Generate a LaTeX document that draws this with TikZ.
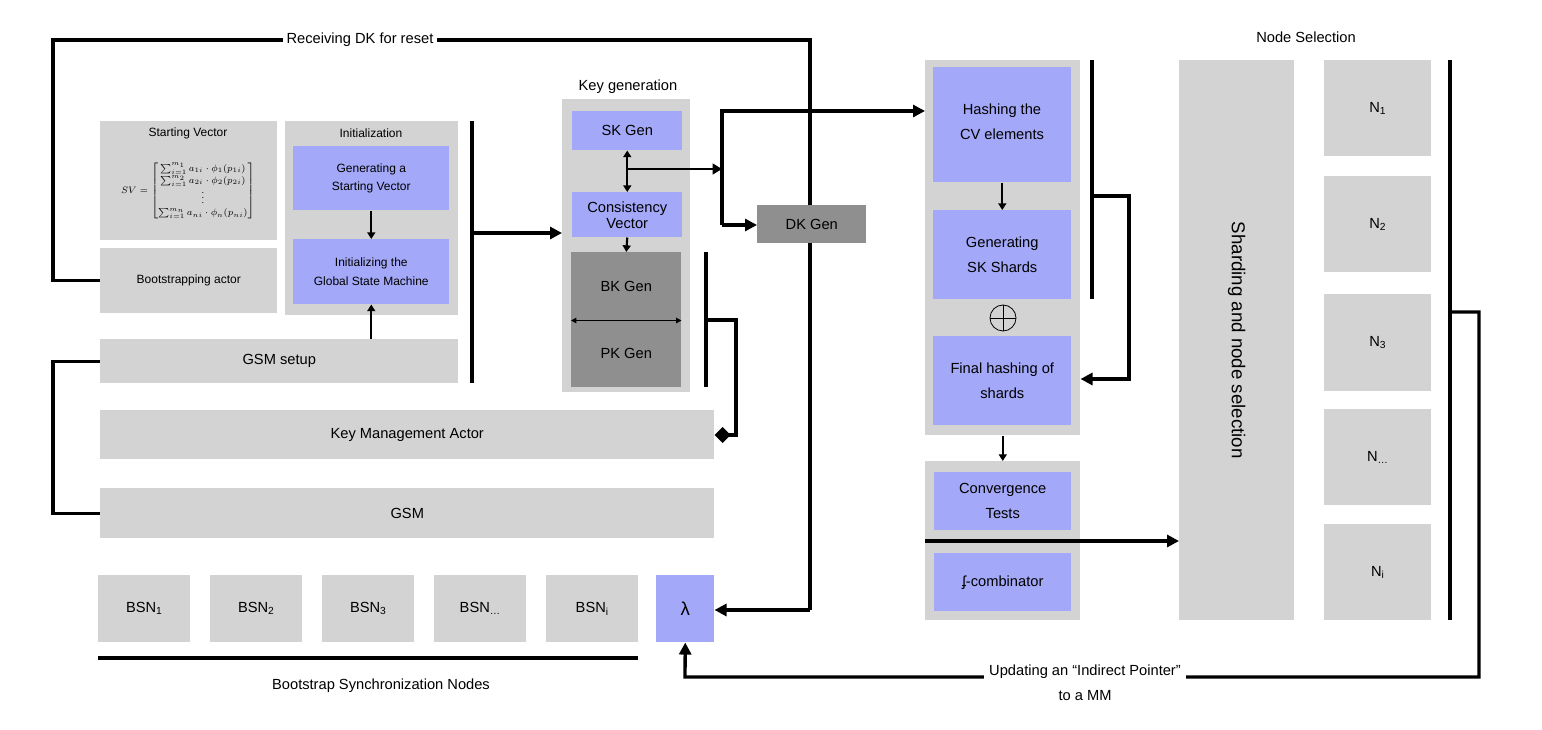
\documentclass[tikz,border=0pt]{standalone}
\usepackage{fontspec}
\usepackage{amsmath}
\setmainfont{Liberation Sans}
\usetikzlibrary{arrows.meta}
\definecolor{gr}{HTML}{D3D3D3}
\definecolor{bl}{HTML}{A3A8F8}
\definecolor{dg}{HTML}{8F8F8F}
\begin{document}
\begin{tikzpicture}[x=0.75pt,y=-0.75pt,
 box/.style={fill=gr,draw=none},
 bbox/.style={fill=bl,draw=none},
 dbox/.style={fill=dg,draw=none},
 ln/.style={line width=2.5pt,line join=miter},
 ar/.style={ln,-{Triangle[length=9pt,width=9pt]}},
 sar/.style={line width=1.6pt,-{Triangle[length=5pt,width=6pt]}},
 txt/.style={font=\fontsize{11}{14}\selectfont,align=center},
 stxt/.style={font=\fontsize{9}{14}\selectfont,align=center}]
\useasboundingbox (0,0) rectangle (1542,730);
\node[box,minimum width=177*0.75pt,minimum height=119*0.75pt,anchor=north west] (sv) at (100,121) {};
\node[stxt] at (188,133) {Starting Vector};
\node[font=\fontsize{7}{8}\selectfont] at (188,191) {$SV=\begin{bmatrix}\sum_{i=1}^{m_1}a_{1i}\cdot\phi_1(p_{1i})\\[1pt]\sum_{i=1}^{m_2}a_{2i}\cdot\phi_2(p_{2i})\\[-2pt]\vdots\\[1pt]\sum_{i=1}^{m_n}a_{ni}\cdot\phi_n(p_{ni})\end{bmatrix}$};
\node[box,minimum width=177*0.75pt,minimum height=65*0.75pt,anchor=north west] (ba) at (100,248) {};
\node[stxt] at (ba.center) {Bootstrapping actor};
\coordinate (tl2) at (53,40); \coordinate (tl3) at (810,40); \coordinate (tl4) at (810,610);
\node[box,minimum width=173*0.75pt,minimum height=194*0.75pt,anchor=north west] (ini) at (285,121) {};
\node[stxt] at (371,133) {Initialization};
\node[bbox,minimum width=156*0.75pt,minimum height=64*0.75pt,anchor=north west] (gen) at (293,146) {};
\node[stxt] at (gen.center) {Generating a\\Starting Vector};
\node[bbox,minimum width=156*0.75pt,minimum height=65*0.75pt,anchor=north west] (igsm) at (293,239) {};
\node[stxt] at (igsm.center) {Initializing the\\Global State Machine};
\node[box,minimum width=358*0.75pt,minimum height=44*0.75pt,anchor=north west] (setup) at (100,339) {};
\node[txt] at (setup.center) {GSM setup};
\node[box,minimum width=614*0.75pt,minimum height=49*0.75pt,anchor=north west] (kma) at (100,410) {};
\node[txt] at (kma.center) {Key Management Actor};
\node[box,minimum width=614*0.75pt,minimum height=50*0.75pt,anchor=north west] (gsm) at (100,488) {};
\node[txt] at (gsm.center) {GSM};
\draw[ln] (gsm.west) -- (gsm.west -| tl2) -- (setup.west -| tl2) -- (setup.west);
\foreach \x/\l [count=\i] in {98/BSN\textsubscript{1},210/BSN\textsubscript{2},322/BSN\textsubscript{3},434/BSN\textsubscript{…},546/BSN\textsubscript{i}}{
 \node[box,minimum width=92*0.75pt,minimum height=67*0.75pt,anchor=north west] (bsn\i) at (\x,575) {};
 \node[txt] at (bsn\i.center) {\l};}
\node[bbox,minimum width=58*0.75pt,minimum height=67*0.75pt,anchor=north west] (lam) at (656,575) {};
\node[font=\fontsize{14}{14}\selectfont] at (lam.center) {λ};
\coordinate (bl1) at (98,658); \coordinate (bl2) at (638,658);
\draw[ln] (bl1) -- (bl2);
\node[txt] at (381,686) {Bootstrap Synchronization Nodes};
\node[txt] at (628,87) {Key generation};
\node[box,minimum width=128*0.75pt,minimum height=293*0.75pt,anchor=north west] (kg) at (562,99) {};
\node[bbox,minimum width=110*0.75pt,minimum height=39*0.75pt,anchor=north west] (sk) at (572,111) {};
\node[txt] at (sk.center) {SK Gen};
\node[bbox,minimum width=110*0.75pt,minimum height=45*0.75pt,anchor=north west] (cv) at (572,192) {};
\node[txt,font=\fontsize{11}{12}\selectfont] at (cv.center) {Consistency\\Vector};
\node[dbox,minimum width=110*0.75pt,minimum height=68*0.75pt,anchor=north west] (bk) at (571,252) {};
\node[txt] at (bk.center) {BK Gen};
\node[dbox,minimum width=110*0.75pt,minimum height=67*0.75pt,anchor=north west] (pk) at (571,320) {};
\node[txt] at (pk.center) {PK Gen};
\draw[line width=0.8pt,{Triangle[length=4pt,width=4pt]}-{Triangle[length=4pt,width=4pt]}] (bk.south west) -- (bk.south east);
\draw[ln] (ba.west) -- (ba.west -| tl2) -- (tl2) -- (tl3) -- (tl4);
\draw[ar] (tl4) -- (lam.east |- tl4);
\node[fill=white,txt,inner sep=3pt] at (360,40) {Receiving DK for reset};
\node[dbox,minimum width=109*0.75pt,minimum height=38*0.75pt,anchor=north west] (dk) at (757,205) {};
\node[txt] at (dk.center) {DK Gen};
\draw[sar] (gen.south) -- (igsm.north);
\draw[sar] (setup.north -| igsm.south) -- (igsm.south);
\coordinate (b1t) at (472,121); \coordinate (b1b) at (472,383); \coordinate (b1m) at (472,233);
\draw[ln] (b1t) -- (b1b);
\draw[ar] (b1m) -- (kg.west |- b1m);
\draw[sar,{Triangle[length=5pt,width=6pt]}-{Triangle[length=5pt,width=6pt]}] (sk.south) -- (cv.north);
\coordinate (br) at (627,169); \coordinate (v1) at (722,111); \coordinate (v2) at (722,225);
\draw[line width=1.6pt,-{Triangle[length=7pt,width=8pt]}] (br) -- (v1 |- br);
\coordinate (b2t) at (706,252); \coordinate (b2b) at (706,387); \coordinate (b2m) at (706,320);
\draw[ln] (b2t) -- (b2b);
\draw[ln,-{Diamond[length=12pt,width=12pt]}] (b2m) -- (736,320) -- (736,435) -- (kma.east |- 0,435);
\draw[sar] (cv.south) -- (bk.north);
\node[box,minimum width=155*0.75pt,minimum height=375*0.75pt,anchor=north west] (hp) at (925,60) {};
\node[bbox,minimum width=138*0.75pt,minimum height=115*0.75pt,anchor=north west] (hcv) at (933,67) {};
\node[txt,font=\fontsize{11}{19}\selectfont] at (1002,122) {Hashing the\\CV elements};
\node[bbox,minimum width=138*0.75pt,minimum height=89*0.75pt,anchor=north west] (gss) at (933,210) {};
\node[txt,font=\fontsize{11}{19}\selectfont] at (gss.center) {Generating\\SK Shards};
\node[draw,circle,line width=0.6pt,minimum size=26*0.75pt,inner sep=0pt] (xor) at (1003,318) {};
\draw[line width=0.6pt] (xor.north) -- (xor.south) (xor.west) -- (xor.east);
\node[bbox,minimum width=138*0.75pt,minimum height=89*0.75pt,anchor=north west] (fh) at (933,336) {};
\node[txt,font=\fontsize{11}{19}\selectfont] at (fh.center) {Final hashing of\\shards};
\draw[sar] (hcv.south) -- (gss.north);
\draw[ar] (v2) -- (v1) -- (hp.west |- v1);
\draw[ar] (v2) -- (dk.west |- v2);
\coordinate (b3t) at (1092,60); \coordinate (b3b) at (1092,299); \coordinate (b3m) at (1092,196);
\draw[ln] (b3t) -- (b3b);
\draw[ar] (b3m) -- (1129,196) -- (1129,379) -- (hp.east |- 0,379);
\node[box,minimum width=155*0.75pt,minimum height=159*0.75pt,anchor=north west] (cp) at (925,461) {};
\draw[sar] (hp.south) -- (cp.north);
\node[bbox,minimum width=137*0.75pt,minimum height=58*0.75pt,anchor=north west] (ct) at (934,472) {};
\node[txt,font=\fontsize{11}{19}\selectfont] at (ct.center) {Convergence\\Tests};
\node[bbox,minimum width=137*0.75pt,minimum height=58*0.75pt,anchor=north west] (fc) at (934,553) {};
\node[txt] at (fc.center) {ʄ-combinator};
\node[box,minimum width=115*0.75pt,minimum height=560*0.75pt,anchor=north west] (sh) at (1179,60) {};
\node[font=\fontsize{14}{14}\selectfont,rotate=-90] at (sh.center) {Sharding and node selection};
\draw[ar] (cp.west |- 0,541) -- (sh.west |- 0,541);
\node[txt] at (1306,37) {Node Selection};
\foreach \y/\h/\l [count=\i] in {60/96/N\textsubscript{1},176/96/N\textsubscript{2},294/97/N\textsubscript{3},409/96/N\textsubscript{…},524/96/N\textsubscript{i}}{
 \node[box,minimum width=107*0.75pt,minimum height=\h*0.75pt,anchor=north west] (n\i) at (1324,\y) {};
 \node[txt] at (n\i.center) {\l};}
\coordinate (b4t) at (1450,60); \coordinate (b4b) at (1450,620); \coordinate (b4m) at (1450,312);
\draw[ln] (b4t) -- (b4b);
\draw[ar] (b4m) -- (1479,312) -- (1479,677) -- (685,677) -- (lam.south);
\node[fill=white,txt,font=\fontsize{11}{19}\selectfont,inner sep=4pt] at (1085,683) {Updating an “Indirect Pointer”\\to a MM};
\end{tikzpicture}
\end{document}
